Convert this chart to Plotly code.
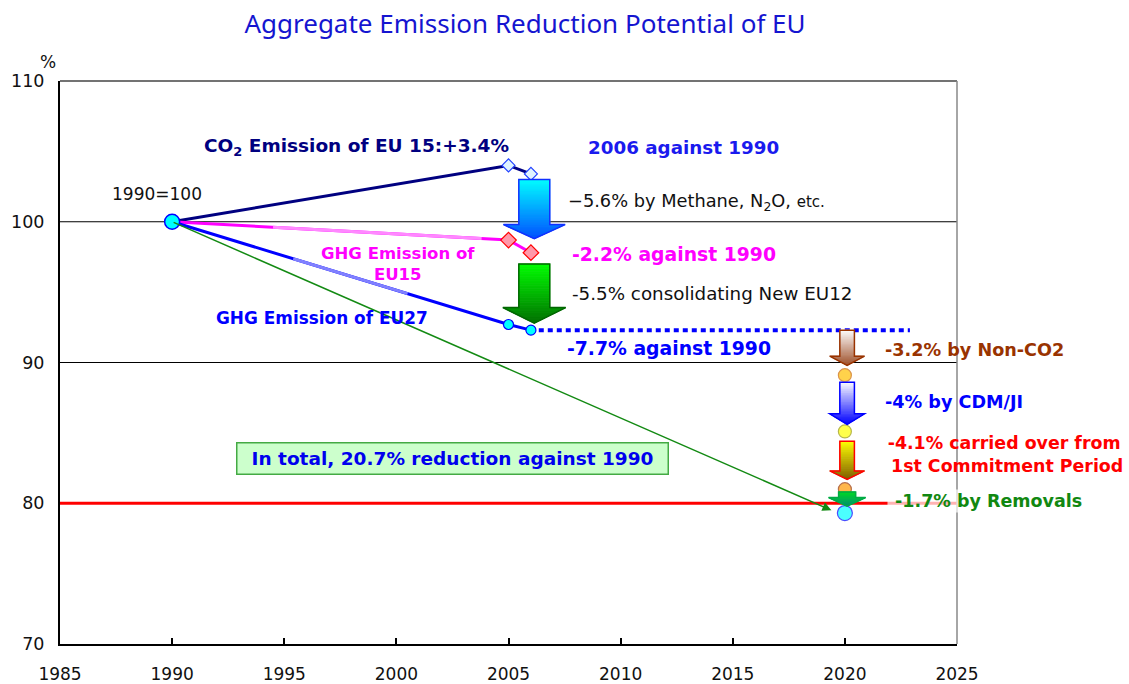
import plotly.graph_objects as go

# ---------------- data ----------------
hist_years = [1990, 2005, 2006]
co2_eu15 = [100.0, 104.0, 103.4]
ghg_eu15 = [100.0, 98.7, 97.8]
ghg_eu27 = [100.0, 92.7, 92.3]

target_year = 2020
measure_names = ["Non-CO2", "CDM/JI", "carried over", "Removals"]
measure_reductions = [3.2, 4.0, 4.1, 1.7]
target_line = 80.0
base_year = 1990
base_value = 100.0

x_ticks = [1985, 1990, 1995, 2000, 2005, 2010, 2015, 2020, 2025]
y_ticks = [70, 80, 90, 100, 110]
grid_levels = [90, 100]

# cumulative levels at 2020
levels_2020 = [ghg_eu27[-1]]
for r in measure_reductions:
    levels_2020.append(round(levels_2020[-1] - r, 2))

FONT = "DejaVu Sans"
fig = go.Figure()


def hex2rgb(h):
    h = h.lstrip('#')
    return tuple(int(h[i:i + 2], 16) for i in (0, 2, 4))


def interp(c1, c2, t):
    a, b = hex2rgb(c1), hex2rgb(c2)
    return "rgb(%d,%d,%d)" % tuple(round(a[i] + (b[i] - a[i]) * t) for i in range(3))


shapes = []


def block_arrow(xc, y0, y1, shaft_w, head_w, head_len, c_top, c_bot, outline, n=18):
    yh = y1 + head_len
    total = y0 - y1
    for i in range(n):
        ya = y0 - (y0 - yh) * i / n
        yb = y0 - (y0 - yh) * (i + 1) / n
        t = (y0 - (ya + yb) / 2) / total
        col = interp(c_top, c_bot, t)
        shapes.append(dict(type="rect", xref="x", yref="y", x0=xc - shaft_w / 2, x1=xc + shaft_w / 2,
                           y0=yb, y1=ya, fillcolor=col, line=dict(color=col, width=0.8), layer="above"))
    for i in range(n):
        ya = yh - (yh - y1) * i / n
        yb = yh - (yh - y1) * (i + 1) / n
        wa = head_w / 2 * (1 - i / n)
        wb = head_w / 2 * (1 - (i + 1) / n)
        t = (y0 - (ya + yb) / 2) / total
        col = interp(c_top, c_bot, t)
        path = f"M{xc - wa},{ya} L{xc + wa},{ya} L{xc + wb},{yb} L{xc - wb},{yb} Z"
        shapes.append(dict(type="path", xref="x", yref="y", path=path, fillcolor=col,
                           line=dict(color=col, width=0.8), layer="above"))
    sw, hw = shaft_w / 2, head_w / 2
    path = (f"M{xc - sw},{y0} L{xc + sw},{y0} L{xc + sw},{yh} L{xc + hw},{yh} L{xc},{y1} "
            f"L{xc - hw},{yh} L{xc - sw},{yh} Z")
    shapes.append(dict(type="path", xref="x", yref="y", path=path, fillcolor="rgba(0,0,0,0)",
                       line=dict(color=outline, width=1.5), layer="above"))


# grid lines and frame
for g in grid_levels:
    shapes.append(dict(type="line", xref="paper", yref="y", x0=0, x1=1, y0=g, y1=g,
                       line=dict(color="black", width=1), layer="below"))
shapes.append(dict(type="line", xref="paper", yref="paper", x0=0, x1=1, y0=1, y1=1,
                   line=dict(color="#444", width=1.5)))
shapes.append(dict(type="line", xref="paper", yref="paper", x0=1, x1=1, y0=0, y1=1,
                   line=dict(color="#888", width=1.5)))
# target line
shapes.append(dict(type="line", xref="paper", yref="y", x0=0, x1=1, y0=target_line, y1=target_line,
                   line=dict(color="#ff0000", width=3), layer="below"))

# dotted continuation of EU27
fig.add_trace(go.Scatter(x=[hist_years[-1] + 0.35, 2022.9], y=[ghg_eu27[-1], ghg_eu27[-1]], mode="lines",
                         line=dict(color="#0000ff", width=4, dash="5px,4px"), hoverinfo="skip"))

# green total line with arrow
fig.add_annotation(x=target_year - 0.6, y=levels_2020[-1] + 0.2, ax=base_year, ay=base_value,
                   xref="x", yref="y", axref="x", ayref="y", text="", showarrow=True,
                   arrowhead=2, arrowsize=1.2, arrowwidth=1.5, arrowcolor="#138a13")

# series lines
fig.add_trace(go.Scatter(x=hist_years, y=co2_eu15, mode="lines", line=dict(color="#000080", width=3),
                         hoverinfo="skip"))
fig.add_trace(go.Scatter(x=hist_years, y=ghg_eu15, mode="lines", line=dict(color="#ff00ff", width=3),
                         hoverinfo="skip"))
fig.add_trace(go.Scatter(x=hist_years, y=ghg_eu27, mode="lines", line=dict(color="#0000ff", width=3),
                         hoverinfo="skip"))


# lighter mid sections (gradient look of original)
def seg(x0, y0, x1, y1, f0, f1):
    return [x0 + (x1 - x0) * f0, x0 + (x1 - x0) * f1], [y0 + (y1 - y0) * f0, y0 + (y1 - y0) * f1]


sx, sy = seg(hist_years[0], ghg_eu15[0], hist_years[1], ghg_eu15[1], 0.3, 0.92)
fig.add_trace(go.Scatter(x=sx, y=sy, mode="lines", line=dict(color="#ff88ff", width=3), hoverinfo="skip"))
sx, sy = seg(hist_years[0], ghg_eu27[0], hist_years[1], ghg_eu27[1], 0.36, 0.7)
fig.add_trace(go.Scatter(x=sx, y=sy, mode="lines", line=dict(color="#8080ff", width=3), hoverinfo="skip"))

# markers
fig.add_trace(go.Scatter(x=hist_years[1:], y=co2_eu15[1:], mode="markers",
                         marker=dict(symbol="diamond", size=10, color="#e0f4ff", line=dict(color="#2040ff", width=1.2)),
                         hoverinfo="skip"))
fig.add_trace(go.Scatter(x=hist_years[1:], y=ghg_eu15[1:], mode="markers",
                         marker=dict(symbol="diamond", size=12, color="#ff99aa", line=dict(color="#ff0000", width=1.2)),
                         hoverinfo="skip"))
fig.add_trace(go.Scatter(x=hist_years[1:], y=ghg_eu27[1:], mode="markers",
                         marker=dict(symbol="circle", size=10, color="#00ffff", line=dict(color="#0000ff", width=1.2)),
                         hoverinfo="skip"))
fig.add_trace(go.Scatter(x=[base_year], y=[base_value], mode="markers",
                         marker=dict(symbol="circle", size=15, color="#00ffff", line=dict(color="#0000ff", width=1.5)),
                         hoverinfo="skip"))

# big arrows at 2006
big_xc = hist_years[-1] + 0.15
block_arrow(big_xc, co2_eu15[-1] - 0.4, ghg_eu15[-1] + 1.0, 1.38, 2.75, 1.0,
            "#00ffff", "#0050ff", "#1030ff")
block_arrow(big_xc, ghg_eu15[-1] - 0.8, ghg_eu27[-1] + 0.5, 1.38, 2.8, 1.1,
            "#00ff00", "#007000", "#006600")

# 2020 arrows
small_styles = [
    dict(pt=0.0, pb=0.7, sw=0.65, hw=1.55, hl=0.65, ct="#ffffff", cb="#a0522d", ol="#993300"),
    dict(pt=0.5, pb=0.5, sw=0.65, hw=1.55, hl=0.75, ct="#ffffff", cb="#0000ff", ol="#0000ff"),
    dict(pt=0.7, pb=0.7, sw=0.65, hw=1.55, hl=0.6, ct="#ffff00", cb="#806000", ol="#ff0000"),
    dict(pt=0.2, pb=0.5, sw=0.76, hw=1.65, hl=0.6, ct="#00dd22", cb="#009070", ol="#00aa44"),
]
for i, st in enumerate(small_styles):
    block_arrow(target_year + 0.1, levels_2020[i] - st["pt"], levels_2020[i + 1] + st["pb"],
                st["sw"], st["hw"], st["hl"], st["ct"], st["cb"], st["ol"], n=14)

# 2020 circles
circle_fill = ["#ffc000", "#ffff00", "#ff9900", "#00ffff"]
circle_line = ["#cc6600", "#999900", "#993300", "#0000ff"]
circle_size = [13, 13, 13, 15]
fig.add_trace(go.Scatter(x=[target_year] * 4, y=levels_2020[1:], mode="markers",
                         marker=dict(size=circle_size, color=circle_fill, line=dict(color=circle_line, width=1.2)),
                         hoverinfo="skip"))


# ---------------- text ----------------
def txt(x, y, s, color, size, anchor="left", bold=True, **kw):
    fig.add_annotation(x=x, y=y, xref="x", yref="y", text=("<b>%s</b>" % s) if bold else s,
                       showarrow=False, xanchor=anchor, yanchor="middle",
                       font=dict(family=FONT, size=size, color=color), **kw)


txt(1989.33, 101.97, "1990=100", "#111", 17, anchor="center", bold=False)
txt(1998.2, 105.31, "CO<sub>2</sub> Emission of EU 15:+3.4%", "#000080", 18.5, anchor="center")
txt(2012.8, 105.31, "2006 against 1990", "#1a1aee", 18.3, anchor="center")
txt(2007.55, 101.4, "\u22125.6% by Methane, N<sub>2</sub>O, <span style='font-size:15px'>etc.</span>",
    "#111", 17.8, bold=False)
txt(2000.05, 96.98, "GHG Emission of<br>EU15", "#ff00ff", 16.5, anchor="center")
txt(2007.75, 97.64, "-2.2% against 1990", "#ff00ff", 18.8)
txt(2007.75, 94.87, "-5.5% consolidating New EU12", "#111", 18.3, bold=False)
txt(1996.7, 93.16, "GHG Emission of EU27", "#0000ff", 16.9, anchor="center")
txt(2007.5, 91.03, "-7.7% against 1990", "#0000ff", 18.8)
txt(2021.7, 90.89, "-3.2% by Non-CO2", "#993300", 17.6)
txt(2021.7, 87.19, "-4% by CDM/JI", "#0000ff", 17.6)
txt(2021.7, 83.43, "-4.1% carried over from<br> 1st Commitment Period", "#ff0000", 17.4)
txt(2021.9, 80.16, " -1.7% by Removals", "#118811", 17.5, bgcolor="rgba(255,255,255,0.7)")

fig.add_annotation(x=2002.5, y=83.21, xref="x", yref="y",
                   text="<b>In total, 20.7% reduction against 1990</b>", showarrow=False,
                   xanchor="center", yanchor="middle", width=428, height=28,
                   bgcolor="#ccffcc", bordercolor="#44aa44", borderwidth=1.5, borderpad=1,
                   font=dict(family=FONT, size=18.5, color="#0000ee"))

fig.add_annotation(x=-0.0134, y=1.034, xref="paper", yref="paper", text="%", showarrow=False,
                   xanchor="center", yanchor="middle", font=dict(family=FONT, size=17, color="#111"))

W, H = 1129, 684
fig.update_layout(
    width=W, height=H,
    margin=dict(l=60, r=W - 60 - 897, t=81, b=H - 81 - 563, autoexpand=False),
    paper_bgcolor="white", plot_bgcolor="white",
    showlegend=False,
    shapes=shapes,
    title=dict(text="Aggregate Emission Reduction Potential of EU", x=525 / W, xanchor="center",
               y=1 - 24 / H, yanchor="middle", xref="container", yref="container",
               font=dict(family="Noto Sans", size=26, color="#1515d0")),
)
fig.update_xaxes(range=[1985, 2025], tickvals=x_ticks, ticks="inside", ticklen=6, tickcolor="black",
                 tickwidth=1.5, showline=True, linecolor="black", linewidth=2, showgrid=False, zeroline=False,
                 automargin=False, ticklabelstandoff=14, tickfont=dict(family=FONT, size=17, color="#111"))
fig.update_yaxes(range=[70, 110], tickvals=y_ticks, ticks="", showline=True, linecolor="black", linewidth=2,
                 showgrid=False, zeroline=False, automargin=False, ticklabelstandoff=10,
                 tickfont=dict(family=FONT, size=17.5, color="#111"))

fig.write_html("out.html", config={"displayModeBar": False},
               post_script="document.body.style.margin='0';document.body.style.overflow='hidden';")
